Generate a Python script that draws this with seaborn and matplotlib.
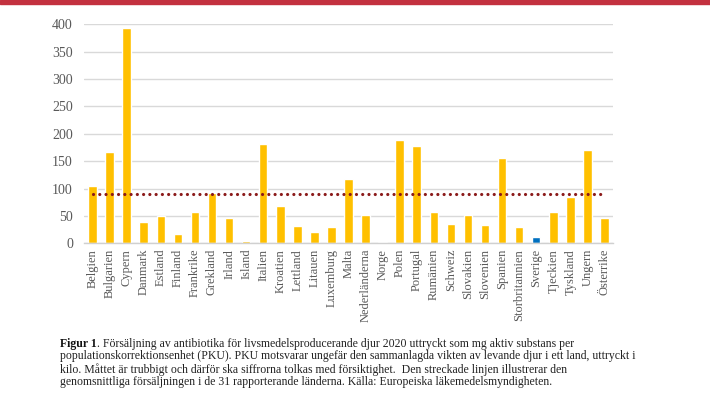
import matplotlib
matplotlib.use("Agg")
import matplotlib.pyplot as plt
import seaborn as sns
import pandas as pd
from matplotlib.patches import Rectangle

countries = ["Belgien", "Bulgarien", "Cypern", "Danmark", "Estland", "Finland",
             "Frankrike", "Grekland", "Irland", "Island", "Italien", "Kroatien",
             "Lettland", "Litauen", "Luxemburg", "Malta", "Nederländerna", "Norge",
             "Polen", "Portugal", "Rumänien", "Schweiz", "Slovakien", "Slovenien",
             "Spanien", "Storbritannien", "Sverige", "Tjeckien", "Tyskland",
             "Ungern", "Österrike"]
values = [104, 166, 394, 38, 50, 17, 58, 91, 47, 5, 182, 69, 32, 21, 30, 117,
          51, 2.5, 188, 177, 58, 35, 52, 34, 155, 30, 12, 57, 85, 171, 47]
mean_value = 89.5
yticks = [0, 50, 100, 150, 200, 250, 300, 350, 400]
highlight = "Sverige"

caption_bold = "Figur 1"
caption_first = ". Försäljning av antibiotika för livsmedelsproducerande djur 2020 uttryckt som mg aktiv substans per"
caption_lines = [
    "populationskorrektionsenhet (PKU). PKU motsvarar ungefär den sammanlagda vikten av levande djur i ett land, uttryckt i",
    "kilo. Måttet är trubbigt och därför ska siffrorna tolkas med försiktighet.  Den streckade linjen illustrerar den",
    "genomsnittliga försäljningen i de 31 rapporterande länderna. Källa: Europeiska läkemedelsmyndigheten.",
]

sns.set_theme(style="white")
plt.rcParams["font.family"] = ["Liberation Serif", "DejaVu Serif"]

df = pd.DataFrame({"land": countries, "varde": values})
palette = {c: ("#0070C0" if c == highlight else "#FFC000") for c in countries}

fig = plt.figure(figsize=(7.10, 3.99), dpi=100)
ax = fig.add_axes([84 / 710, 1 - 243.3 / 399, (613 - 84) / 710, (243.3 - 24.3) / 399])

sns.barplot(data=df, x="land", y="varde", hue="land", palette=palette,
            legend=False, width=0.5, ax=ax, saturation=1)

ax.plot([0, len(countries) - 1], [mean_value, mean_value], color="#8B1A1A",
        linewidth=2.3, linestyle=(0, (0.01, 1.95)), dash_capstyle="round", zorder=4)

ax.set_xlim(-0.5, len(countries) - 0.5)
ax.set_ylim(0, 400)
ax.set_yticks(yticks)
ax.yaxis.grid(True, color="#D9D9D9", linewidth=1)
ax.set_axisbelow(True)
for s in ["top", "right", "left"]:
    ax.spines[s].set_visible(False)
ax.spines["bottom"].set_color("#D0D0D0")
ax.spines["bottom"].set_linewidth(1)
ax.set_xlabel("")
ax.set_ylabel("")
ax.tick_params(axis="y", length=0, pad=8, labelsize=10, labelcolor="#595959")
ax.tick_params(axis="x", length=0, pad=4, labelsize=9, labelcolor="#595959")
plt.setp(ax.get_xticklabels(), rotation=90)

# red band at the top
fig.add_artist(Rectangle((0, 1 - 4 / 399), 1, 4 / 399, transform=fig.transFigure,
                         color="#C3313F", zorder=10))

# caption
fs = 8.5
x0 = 60 / 710
y0 = 1 - 337.5 / 399
t1 = fig.text(x0, y0, caption_bold, fontsize=fs, fontweight="bold", va="top",
              ha="left", color="#111111")
fig.canvas.draw()
bb = t1.get_window_extent(renderer=fig.canvas.get_renderer())
fig.text(bb.x1 / fig.bbox.width, y0, caption_first, fontsize=fs, va="top", ha="left",
         color="#222222")
for i, line in enumerate(caption_lines):
    fig.text(x0, y0 - (i + 1) * 12.7 / 399, line, fontsize=fs, va="top", ha="left",
             color="#222222")

fig.savefig("out.png", dpi=100)
